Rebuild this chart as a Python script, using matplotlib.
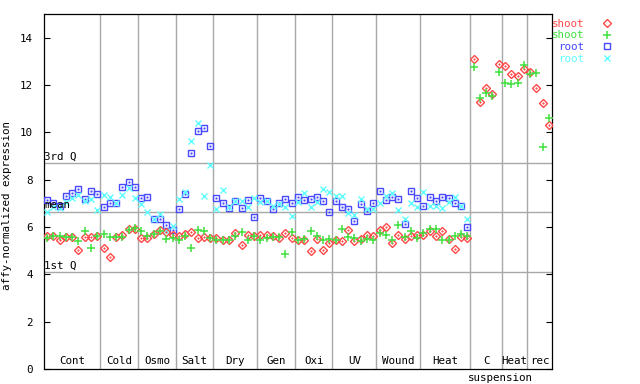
import numpy as np
import matplotlib
matplotlib.use("Agg")
import matplotlib.pyplot as plt
import matplotlib.transforms as mtransforms

# group names and number of samples per group
groups = ["Cont", "Cold", "Osmo", "Salt", "Dry", "Gen", "Oxi", "UV", "Wound", "Heat", "C", "Heat", "rec"]
group_sizes = [9, 6, 6, 6, 7, 6, 6, 7, 7, 8, 5, 4, 4]

shoot_rep1 = [
    5.63, 5.63, 5.43, 5.57, 5.57, 5.03, 5.56, 5.57, 5.63,
    5.10, 4.75, 5.57, 5.67, 5.91, 5.91,
    5.53, 5.53, 5.71, 5.88, 5.77, 5.67,
    5.63, 5.72, 5.78, 5.53, 5.57, 5.53,
    5.53, 5.43, 5.46, 5.74, 5.25, 5.67, 5.63,
    5.66, 5.66, 5.60, 5.53, 5.74, 5.53,
    5.43, 5.46, 4.98, 5.50, 5.01, 5.32,
    5.46, 5.39, 5.88, 5.39, 5.49, 5.67, 5.60,
    5.88, 5.99, 5.32, 5.67, 5.49, 5.60, 5.67,
    5.67, 5.81, 5.63, 5.84, 5.49, 5.06, 5.57, 5.53,
    13.10, 11.27, 11.87, 11.63, 12.90,
    12.79, 12.48, 12.37, 12.68,
    12.54, 11.87, 11.24, 10.30,
]
shoot_rep2 = [
    5.53, 5.60, 5.63, 5.57, 5.57, 5.39, 5.85, 5.10, 5.63,
    5.71, 5.57, 5.57, 5.57, 5.88, 5.95,
    5.85, 5.63, 5.71, 5.85, 5.50, 5.53,
    5.45, 5.62, 5.12, 5.88, 5.82, 5.55,
    5.46, 5.46, 5.46, 5.60, 5.78, 5.46, 5.60,
    5.43, 5.53, 5.57, 5.57, 4.86, 5.78,
    5.46, 5.50, 5.82, 5.63, 5.46, 5.49,
    5.43, 5.91, 5.57, 5.53, 5.39, 5.49, 5.43,
    5.74, 5.67, 5.43, 6.09, 5.57, 5.84, 5.53,
    5.74, 5.91, 5.91, 5.46, 5.46, 5.60, 5.71, 5.60,
    12.76, 11.45, 11.66, 11.52, 12.54,
    12.08, 12.04, 12.08, 12.86,
    12.48, 12.51, 9.40, 10.60,
]
root_rep1 = [
    7.15, 7.01, 6.90, 7.32, 7.43, 7.60, 7.18, 7.53, 7.40,
    6.84, 7.01, 7.01, 7.71, 7.90, 7.71,
    7.23, 7.26, 6.33, 6.33, 6.08, 5.88,
    6.75, 7.39, 9.12, 10.05, 10.18, 9.42,
    7.22, 7.01, 6.82, 7.11, 6.80, 7.14, 6.42,
    7.22, 7.11, 6.75, 7.01, 7.18, 7.01,
    7.26, 7.14, 7.18, 7.26, 7.08, 6.63,
    7.08, 6.84, 6.75, 6.26, 6.97, 6.66, 7.01,
    7.54, 7.12, 7.26, 7.18, 6.12, 7.54, 7.22,
    6.90, 7.26, 7.08, 7.26, 7.22, 7.01, 6.88, 5.99,
] + [np.nan] * 13
root_rep2 = [
    6.65, 6.85, 6.80, 7.04, 7.22, 7.36, 7.10, 7.18, 6.70,
    7.36, 7.26, 7.01, 7.36, 7.64, 7.22,
    6.98, 6.65, 6.33, 6.56, 5.84, 6.05,
    7.18, 7.50, 9.62, 10.39, 7.32, 8.62,
    6.75, 7.57, 6.86, 7.09, 7.09, 6.84, 7.22,
    7.04, 7.11, 6.89, 6.98, 6.84, 6.47,
    7.04, 7.42, 6.84, 7.04, 7.60, 7.50,
    7.29, 7.32, 6.61, 6.51, 7.18, 6.75, 6.75,
    7.01, 7.32, 7.43, 6.70, 6.33, 7.01, 6.84,
    7.50, 6.87, 6.87, 6.80, 7.04, 7.26, 6.88, 6.33,
] + [np.nan] * 13

q1, mean_val, q3 = 4.08, 6.64, 8.70

RED, GREEN, BLUE, CYAN = "#ff4848", "#40e040", "#4848ff", "#60ffff"
GRAY = "#a8a8a8"
FONT = "DejaVu Sans Mono"
FS = 7.8

plt.rcParams['font.family'] = FONT
plt.rcParams['font.size'] = FS

fig = plt.figure(figsize=(6.4, 3.84), dpi=100)
ax = fig.add_axes([44 / 640, 15 / 384, 508 / 640, 355 / 384])

n = sum(group_sizes)
x = np.arange(n)
bounds = np.cumsum(group_sizes)

# quartile / mean lines
for val, lab in [(q3, "3rd Q"), (mean_val, "mean"), (q1, "1st Q")]:
    ax.axhline(val, color=GRAY, lw=1.0, zorder=1)
    ax.text(-0.45, val + 0.06, lab, ha='left', va='bottom', fontsize=FS, zorder=5)

# group separators
for b in bounds[:-1]:
    ax.axvline(b - 0.5, color=GRAY, lw=1.0, zorder=1)

# series
ax.plot(x, root_rep1, ls='none', marker='s', ms=4.6, mfc='none', mec=BLUE, mew=1.0, label='root', zorder=3)
ax.plot(x, root_rep1, ls='none', marker='s', ms=1.0, mfc=BLUE, mec=BLUE, mew=0.3, zorder=3)
ax.plot(x, root_rep2, ls='none', marker='x', ms=4.5, mec=CYAN, mew=1.0, label='root', zorder=3)
ax.plot(x, shoot_rep1, ls='none', marker='D', ms=3.6, mfc='none', mec=RED, mew=1.0, label='shoot', zorder=4)
ax.plot(x, shoot_rep1, ls='none', marker='D', ms=1.0, mfc=RED, mec=RED, mew=0.3, zorder=4)
ax.plot(x, shoot_rep2, ls='none', marker='+', ms=5.5, mec=GREEN, mew=1.1, label='shoot', zorder=4)

ax.set_xlim(-0.5, n - 0.5)
ax.set_ylim(0, 15)
ax.set_xticks([])
ax.set_yticks(np.arange(0, 15, 2))
ax.tick_params(axis='y', direction='in', length=4.5, width=0.8, left=True, right=True, pad=8, labelsize=FS)
for s in ax.spines.values():
    s.set_linewidth(0.9)
ax.set_ylabel("affy-normalized expression", fontsize=FS)
ax.yaxis.set_label_coords(-0.063, 0.46)

# group labels
trans = mtransforms.blended_transform_factory(ax.transData, ax.transAxes)
starts = np.concatenate([[0], bounds[:-1]])
for name, s0, b in zip(groups, starts, bounds):
    ax.text((s0 + b - 1) / 2, 0.008, name, transform=trans, ha='center', va='bottom', fontsize=FS)
ax.text(bounds[9] - 0.9, -0.026, "suspension", transform=trans, ha='left', va='center',
        fontsize=FS, clip_on=False)

# legend: text then marker, coloured text
handles, labels = ax.get_legend_handles_labels()
order = [2, 3, 0, 1]
leg = ax.legend([handles[i] for i in order], [labels[i] for i in order],
                loc='upper left', bbox_to_anchor=(0.984, 1.008), frameon=False,
                markerfirst=False, labelcolor='linecolor', fontsize=FS,
                handletextpad=1.6, labelspacing=0.15, handlelength=1.0, borderpad=0.2)
for t, c in zip(leg.get_texts(), [RED, GREEN, BLUE, CYAN]):
    t.set_color(c)

fig.savefig("out.png", dpi=100)
